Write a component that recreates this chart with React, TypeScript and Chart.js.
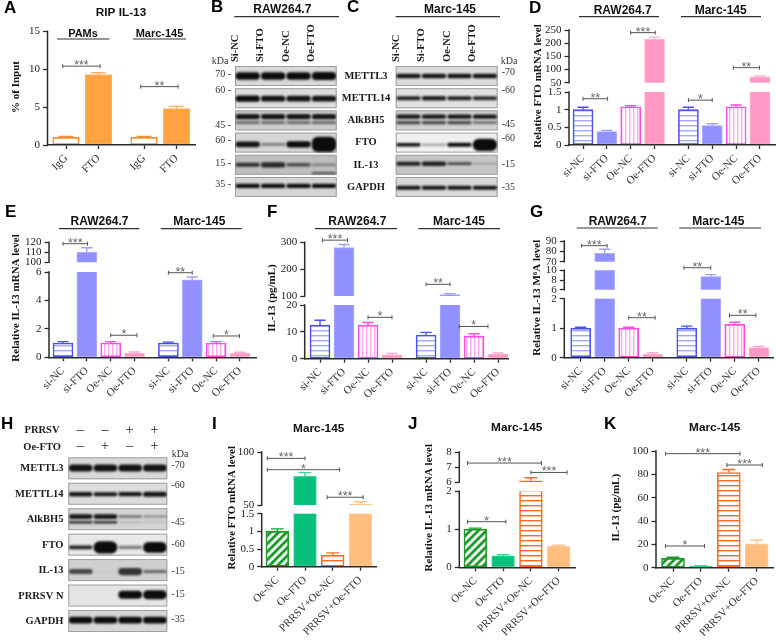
import React, { useEffect, useRef } from 'react';
import { Chart, LinearScale, registerables } from 'chart.js';

Chart.register(...registerables);

/* ---------- data ---------- */
const groupSlots = [0, 1, 2, 3, 4.42, 5.42, 6.42, 7.42];
const fourSlots = [0, 1, 2, 3];
const ripSlots = [0, 1, 2.4, 3.4];

const ripCategories = ['IgG', 'FTO', 'IgG', 'FTO'];
const siOeCategories = ['si-NC', 'si-FTO', 'Oe-NC', 'Oe-FTO', 'si-NC', 'si-FTO', 'Oe-NC', 'Oe-FTO'];
const prrsvCategories = ['Oe-NC', 'Oe-FTO', 'PRRSV+Oe-NC', 'PRRSV+Oe-FTO'];

const aValues = [1, 9.3, 1, 4.8];
const aErrors = [0.12, 0.25, 0.12, 0.3];
const dValues = [1, 0.38, 1.08, 215, 1, 0.55, 1.08, 72];
const dErrors = [0.07, 0.03, 0.03, 8, 0.07, 0.05, 0.05, 4];
const eValues = [1, 110, 1, 0.3, 1, 5.45, 1, 0.3];
const eErrors = [0.1, 4.5, 0.1, 0.07, 0.07, 0.2, 0.1, 0.05];
const fValues = [12.5, 280, 12.5, 1.4, 8.8, 105, 8.4, 1.7];
const fErrors = [1.8, 12, 1, 0.6, 1, 4, 0.9, 0.4];
const gValues = [1, 78, 1, 0.12, 1, 8.7, 1.13, 0.34];
const gErrors = [0.03, 4, 0.03, 0.05, 0.07, 0.4, 0.07, 0.04];
const iValues = [1, 77, 0.33, 51];
const iErrors = [0.07, 3.5, 0.06, 2];
const jValues = [1, 0.3, 6.1, 0.55];
const jErrors = [0.03, 0.03, 0.2, 0.03];
const kValues = [8, 1.3, 81.5, 20.5];
const kErrors = [1, 0.4, 2.7, 3];

const aTicks = [0, 5, 10, 15];
const dTicks = [0, 0.5, 1, 1.5, 50, 100, 150, 200, 250];
const eTicks = [0, 2, 4, 6, 100, 110, 120];
const fTicks = [0, 10, 20, 100, 200, 300];
const gTicks = [0, 1, 2, 6, 8, 10, 70, 80, 90];
const iTicks = [0, 0.5, 1, 1.5, 50, 100];
const jTicks = [0, 1, 2, 6, 7, 8];
const kTicks = [0, 20, 40, 60, 80, 100];

const laneLabels = ['Si-NC', 'Si-FTO', 'Oe-NC', 'Oe-FTO'];
const westernRows = ['METTL3', 'METTL14', 'AlkBH5', 'FTO', 'IL-13', 'GAPDH'];
const prrsvRows = ['METTL3', 'METTL14', 'AlkBH5', 'FTO', 'IL-13', 'PRRSV N', 'GAPDH'];
const bKda = ['70', '60', '45', '60', '15', '35'];
const cKda = ['70', '60', '45', '60', '15', '35'];
const hKda = ['70', '60', '45', '60', '15', '15', '35'];
const bKdaRows = [0.36, 1.11, 2.66, 3.33, 4.37, 5.32];
const cKdaRows = [0.3, 1.08, 2.63, 3.26, 4.43, 5.48];
const hKdaRows = [0.33, 1.09, 2.55, 3.41, 4.5, 5.38, 6.37];
const prrsvSigns = ['-', '-', '+', '+'];
const oeFtoSigns = ['-', '+', '-', '+'];

// band row position, thickness (in row heights) and darkness per lane
const bBandRows = [0.45, 1.47, 2.28, 2.55, 3.53, 4.45, 4.82, 5.4];
const bBandThick = [
  [0.34, 0.34, 0.34, 0.36], [0.28, 0.26, 0.26, 0.26], [0.24, 0.24, 0.24, 0.24], [0.13, 0.13, 0.13, 0.13],
  [0.26, 0.12, 0.28, 0.68], [0.18, 0.24, 0.16, 0.11], [0, 0, 0, 0.1], [0.2, 0.2, 0.2, 0.2],
];
const bBandDark = [
  [1, 1, 1, 1], [1, 0.97, 0.97, 0.97], [0.95, 0.95, 0.95, 0.95], [0.55, 0.55, 0.55, 0.55],
  [0.95, 0.45, 1, 1], [0.8, 0.85, 0.65, 0.35], [0, 0, 0, 0.65], [1, 1, 1, 1],
];
const cBandRows = [0.45, 1.45, 2.28, 2.55, 3.55, 4.4, 5.48];
const cBandThick = [
  [0.2, 0.2, 0.2, 0.2], [0.18, 0.2, 0.18, 0.18], [0.2, 0.2, 0.2, 0.2], [0.14, 0.14, 0.14, 0.1],
  [0.16, 0.09, 0.18, 0.55], [0.18, 0.2, 0.13, 0.06], [0.18, 0.18, 0.18, 0.18],
];
const cBandDark = [
  [0.97, 0.97, 0.97, 0.97], [0.9, 0.9, 0.9, 0.85], [0.95, 0.95, 0.95, 0.95], [0.7, 0.7, 0.7, 0.6],
  [0.97, 0.4, 1, 1], [0.9, 0.9, 0.7, 0.3], [0.97, 0.97, 0.97, 0.97],
];
const hBandRows = [0.42, 1.45, 2.33, 2.55, 3.54, 4.49, 5.4, 6.4];
const hBandThick = [
  [0.28, 0.28, 0.28, 0.28], [0.18, 0.16, 0.17, 0.2], [0.18, 0.18, 0.1, 0.08], [0.1, 0.1, 0.06, 0.06],
  [0.14, 0.48, 0.12, 0.42], [0.2, 0.04, 0.28, 0.12], [0, 0, 0.32, 0.36], [0.26, 0.26, 0.26, 0.26],
];
const hBandDark = [
  [0.97, 0.97, 0.97, 0.97], [0.95, 0.95, 0.95, 0.95], [0.95, 0.95, 0.5, 0.4], [0.85, 0.85, 0.2, 0.15],
  [0.9, 1, 0.5, 1], [0.7, 0.05, 0.8, 0.55], [0, 0, 1, 1], [1, 1, 1, 1],
];
const bRowShade = ['#d8d8d8', '#dcdcdc', '#cdcdcd', '#d6d6d6', '#bebebe', '#d4d4d4'];
const cRowShade = ['#dcdcdc', '#e0e0e0', '#d2d2d2', '#f0f0f0', '#c6c6c6', '#d8d8d8'];
const hRowShade = ['#d8d8d8', '#dcdcdc', '#d4d4d4', '#e8e8e8', '#d0d0d0', '#e4e4e4', '#d6d6d6'];

const panelLetters: [string, number, number][] = [
  ['A', 4, 9], ['B', 211, 8], ['C', 347, 8], ['D', 529, 9], ['E', 5, 213], ['F', 267, 213],
  ['G', 530, 213], ['H', 1, 425], ['I', 212, 425], ['J', 408, 425], ['K', 604, 425],
];

/* ---------- styles ---------- */
const SERIF = '"Liberation Serif"';
const SANS = '"Liberation Sans"';
const INK = '#2b2b2b';

type Style = { border: string; err: string; fill: string; pattern?: string; stripe?: string; bw: number };
const STYLES: Record<string, Style> = {
  ow: { border: '#ff8f2e', err: '#ff8f2e', fill: '#ffffff', bw: 1.6 },
  os: { border: '#ffb066', err: '#ffac5e', fill: '#ffa340', bw: 1 },
  bl: { border: '#4a50f2', err: '#4a50f2', fill: '#ffffff', pattern: 'h', stripe: '#a3a8fa', bw: 1.6 },
  bs: { border: '#adadff', err: '#a0a0ff', fill: '#9090ff', bw: 1 },
  pl: { border: '#ff4be0', err: '#ff4be0', fill: '#ffffff', pattern: 'v', stripe: '#ffa8ee', bw: 1.6 },
  ps: { border: '#ffb4d6', err: '#ffa8cf', fill: '#ff98c4', bw: 1 },
  gh: { border: '#1c9a28', err: '#1c9a28', fill: '#ffffff', pattern: 'd', stripe: '#1c9a28', bw: 1.6 },
  gs: { border: '#45d19c', err: '#45d19c', fill: '#08c07c', bw: 1 },
  rl: { border: '#ff6a20', err: '#ff6a20', fill: '#ffffff', pattern: 'h', stripe: '#ff6a20', bw: 1.6 },
  ys: { border: '#ffcf9f', err: '#ffc48c', fill: '#ffbd80', bw: 1 },
};

function makePattern(kind: string, color: string): CanvasPattern | string {
  const c = document.createElement('canvas');
  const size = kind === 'd' ? 8 : kind === 'h' ? 5 : 4;
  c.width = size;
  c.height = size;
  const g = c.getContext('2d')!;
  g.fillStyle = '#ffffff';
  g.fillRect(0, 0, size, size);
  g.strokeStyle = color;
  g.fillStyle = color;
  if (kind === 'h') g.fillRect(0, 0, size, 1.4);
  if (kind === 'v') g.fillRect(0, 0, 1.4, size);
  if (kind === 'd') {
    g.lineWidth = 2.8;
    g.beginPath();
    g.moveTo(-2, 2); g.lineTo(2, -2);
    g.moveTo(-2, 10); g.lineTo(10, -2);
    g.moveTo(6, 10); g.lineTo(10, 6);
    g.stroke();
  }
  return g.createPattern(c, 'repeat') || '#ffffff';
}

/* ---------- panels ---------- */
type Head = [string, number, number, number, number, number];
type Bracket = [number, number, number, string];
type Panel = {
  canvas: [number, number, number, number];
  left: number; right: number; first: number; pitch: number; barW: number;
  slots: number[]; categories: string[]; values: number[]; errors: number[]; styles: string[];
  knots: [number, number][]; gaps: number[]; ticks: number[];
  yTitle: [string, number, number]; heads: Head[]; title?: [string, number, number]; brackets: Bracket[];
  headFont?: number;
};

const siStyles = ['bl', 'bs', 'pl', 'ps', 'bl', 'bs', 'pl', 'ps'];
const prStyles = ['gh', 'gs', 'rl', 'ys'];

const PANELS: Panel[] = [
  {
    canvas: [0, 0, 208, 205], left: 47.5, right: 195, first: 66, pitch: 32.5, barW: 26.5,
    slots: ripSlots, categories: ripCategories, values: aValues, errors: aErrors, styles: ['ow', 'os', 'ow', 'os'],
    knots: [[0, 145], [15, 31.3]], gaps: [], ticks: aTicks,
    yTitle: ['% of Input', 16, 87], title: ['RIP IL-13', 121, 13], headFont: 11,
    heads: [['PAMs', 83, 33.5, 57, 109.5, 39], ['Marc-145', 159.5, 33.5, 133, 186, 39]],
    brackets: [[-0.1, 1.05, 10.4, '***'], [2.3, 3.45, 7.7, '**']],
  },
  {
    canvas: [525, 0, 252, 205], left: 569, right: 775, first: 583, pitch: 23.85, barW: 20,
    slots: groupSlots, categories: siOeCategories, values: dValues, errors: dErrors, styles: siStyles,
    knots: [[0, 145], [1.5, 92], [50, 82.7], [250, 30]], gaps: [1], ticks: dTicks,
    yTitle: ['Relative FTO mRNA level', 538.5, 86],
    heads: [['RAW264.7', 622.7, 10.7, 579, 659, 16.7], ['Marc-145', 720.7, 10.7, 681, 761, 16.7]],
    brackets: [[0, 1.03, 1.31, '**'], [2, 3.03, 240, '***'], [4.42, 5.42, 1.27, '*'], [6.3, 7.4, 107, '**']],
  },
  {
    canvas: [0, 205, 262, 200], left: 49, right: 256, first: 63, pitch: 23.85, barW: 20,
    slots: groupSlots, categories: siOeCategories, values: eValues, errors: eErrors, styles: siStyles,
    knots: [[0, 357.3], [6, 272], [100, 262.3], [120, 242.3]], gaps: [1], ticks: eTicks,
    yTitle: ['Relative IL-13 mRNA level', 15.7, 298],
    heads: [['RAW264.7', 99.5, 222, 59, 139.3, 228.7], ['Marc-145', 199.3, 222, 160.7, 241.7, 228.7]],
    brackets: [[0, 1.03, 118.6, '***'], [4.42, 5.42, 5.95, '**'], [2, 3.1, 1.55, '*'], [6.3, 7.4, 1.5, '*']],
  },
  {
    canvas: [262, 205, 258, 200], left: 304.7, right: 508, first: 320, pitch: 24, barW: 20,
    slots: groupSlots, categories: siOeCategories, values: fValues, errors: fErrors, styles: siStyles,
    knots: [[0, 358.7], [20, 305], [100, 296], [300, 242.3]], gaps: [1], ticks: fTicks,
    yTitle: ['IL-13 (pg/mL)', 271.7, 298],
    heads: [['RAW264.7', 357.3, 222, 315, 397, 228.7], ['Marc-145', 459, 222, 418.3, 500, 228.7]],
    brackets: [[0.1, 1.15, 308, '***'], [4.42, 5.42, 143.5, '**'], [2, 3, 15.4, '*'], [5.8, 7, 12, '*']],
  },
  {
    canvas: [525, 205, 252, 200], left: 564.3, right: 773, first: 580.7, pitch: 24, barW: 20,
    slots: groupSlots, categories: siOeCategories, values: gValues, errors: gErrors, styles: siStyles,
    knots: [[0, 357.7], [2, 298.7], [6, 289.7], [10, 270.3], [70, 261.7], [90, 241]], gaps: [1, 3], ticks: gTicks,
    yTitle: ['Relative IL-13 M⁶A level', 537.3, 297.7],
    heads: [['RAW264.7', 617.7, 221.7, 576.7, 657.7, 228], ['Marc-145', 718.3, 221.7, 679.3, 761, 228]],
    brackets: [[0.03, 1.1, 85.5, '***'], [4.3, 5.42, 28, '**'], [2, 3.1, 1.356, '**'], [6.2, 7.3, 1.437, '**']],
  },
  {
    canvas: [225, 410, 175, 230], left: 261.7, right: 376.7, first: 277.3, pitch: 27.7, barW: 22.7,
    slots: fourSlots, categories: prrsvCategories, values: iValues, errors: iErrors, styles: prStyles,
    knots: [[0, 566.7], [1.5, 513.7], [50, 505], [100, 452]], gaps: [1], ticks: iTicks,
    yTitle: ['Relative FTO mRNA level', 232, 507.7], title: ['Marc-145', 318.7, 429], heads: [],
    brackets: [[-0.36, 1, 94, '***'], [-0.36, 2.25, 83.3, '*'], [1.8, 3.1, 57.3, '***']],
  },
  {
    canvas: [415, 410, 170, 230], left: 459.3, right: 575.7, first: 475.3, pitch: 27.8, barW: 22.7,
    slots: fourSlots, categories: prrsvCategories, values: jValues, errors: jErrors, styles: prStyles,
    knots: [[0, 567.3], [2, 491.3], [6, 482.3], [8, 452]], gaps: [1], ticks: jTicks,
    yTitle: ['Relative IL-13 mRNA level', 429, 507.7], title: ['Marc-145', 516.7, 428], heads: [],
    brackets: [[-0.28, 2.38, 7.27, '***'], [2, 3.3, 6.65, '***'], [-0.28, 1.1, 1.2, '*']],
  },
  {
    canvas: [600, 410, 177, 230], left: 656, right: 773.7, first: 673, pitch: 27.9, barW: 23,
    slots: fourSlots, categories: prrsvCategories, values: kValues, errors: kErrors, styles: prStyles,
    knots: [[0, 567.7], [100, 451]], gaps: [], ticks: kTicks,
    yTitle: ['IL-13 (pg/mL)', 616.3, 507.7], title: ['Marc-145', 714.7, 428], heads: [],
    brackets: [[-0.27, 2.4, 97.7, '***'], [1.93, 3.2, 88, '***'], [-0.27, 1.13, 18.6, '*']],
  },
];

type Blot = {
  canvas: [number, number, number, number];
  left: number; right: number; top: number; pitch: number; boxH: number;
  rows: string[]; shades: string[]; bandRows: number[]; thick: number[][]; dark: number[][];
  kda: string[]; kdaRows: number[]; side: 'left' | 'right'; kdaAt: [number, number];
  rowLabelX?: number; rowLabelAlign?: CanvasTextAlign; laneText: boolean;
  heads: Head[]; signs: boolean;
};

const BLOTS: Blot[] = [
  {
    canvas: [205, 0, 190, 205], left: 235, right: 336.7, top: 66, pitch: 22.2, boxH: 20,
    rows: westernRows, shades: bRowShade, bandRows: bBandRows, thick: bBandThick, dark: bBandDark,
    kda: bKda, kdaRows: bKdaRows, side: 'left', kdaAt: [220, 61], rowLabelX: 366, rowLabelAlign: 'center',
    laneText: true, heads: [['RAW264.7', 282.3, 10, 234.3, 339, 16.7]], signs: false,
  },
  {
    canvas: [390, 0, 135, 205], left: 395.7, right: 497.7, top: 66, pitch: 22.2, boxH: 20,
    rows: westernRows, shades: cRowShade, bandRows: cBandRows, thick: cBandThick, dark: cBandDark,
    kda: cKda, kdaRows: cKdaRows, side: 'right', kdaAt: [509, 61],
    laneText: true, heads: [['Marc-145', 450, 10, 395.7, 500, 16.7]], signs: false,
  },
  {
    canvas: [0, 410, 205, 230], left: 68.3, right: 167.3, top: 457.3, pitch: 25.45, boxH: 22,
    rows: prrsvRows, shades: hRowShade, bandRows: hBandRows, thick: hBandThick, dark: hBandDark,
    kda: hKda, kdaRows: hKdaRows, side: 'right', kdaAt: [180, 454], rowLabelX: 63.5, rowLabelAlign: 'right',
    laneText: false, heads: [], signs: true,
  },
];

/* ---------- piecewise axis ---------- */
const panelOfCanvas = new WeakMap<HTMLCanvasElement, Panel>();

class BrokenScale extends LinearScale {
  static id = 'broken';
  static defaults = {};
  getPixelForValue(v: number) {
    const p = panelOfCanvas.get((this as any).chart.canvas)!;
    const k = p.knots;
    let i = 0;
    while (i < k.length - 2 && v > k[i + 1][0]) i++;
    const t = (v - k[i][0]) / (k[i + 1][0] - k[i][0]);
    return k[i][1] + t * (k[i + 1][1] - k[i][1]) - p.canvas[1];
  }
  getValueForPixel(px: number) {
    const p = panelOfCanvas.get((this as any).chart.canvas)!;
    const k = p.knots;
    const y = px + p.canvas[1];
    let i = 0;
    while (i < k.length - 2 && y < k[i + 1][1]) i++;
    return k[i][0] + ((y - k[i][1]) / (k[i + 1][1] - k[i][1])) * (k[i + 1][0] - k[i][0]);
  }
}
Chart.register(BrokenScale as any);

const fitWidth = (w: number) => (s: any) => { s.width = w; s.paddingTop = s.paddingBottom = s.paddingLeft = s.paddingRight = 0; };
const fitHeight = (h: number) => (s: any) => { s.height = h; s.paddingTop = s.paddingBottom = s.paddingLeft = s.paddingRight = 0; };

function drawHeads(g: CanvasRenderingContext2D, heads: Head[], size: number) {
  for (const [text, cx, y, x1, x2, ly] of heads) {
    g.fillStyle = '#111';
    g.font = `bold ${size}px ${SANS}`;
    g.textAlign = 'center';
    g.textBaseline = 'middle';
    g.fillText(text, cx, y);
    g.strokeStyle = '#333';
    g.lineWidth = 1.2;
    g.beginPath();
    g.moveTo(x1, ly);
    g.lineTo(x2, ly);
    g.stroke();
  }
}

const panelPlugin = {
  id: 'panelMarks',
  afterDatasetsDraw(chart: any) {
    const p = panelOfCanvas.get(chart.canvas)!;
    const g: CanvasRenderingContext2D = chart.ctx;
    const x = chart.scales.x;
    const y = chart.scales.y;
    const [cx, cy] = p.canvas;
    const area = chart.chartArea;
    g.save();
    // white breaks through the bars
    for (const i of p.gaps) {
      g.fillStyle = '#ffffff';
      const a = p.knots[i][1] - cy;
      const b = p.knots[i + 1][1] - cy;
      g.fillRect(area.left + 1, b, area.right - area.left, a - b);
    }
    // error bars
    p.values.forEach((v, i) => {
      const st = STYLES[p.styles[i]];
      const px = x.getPixelForValue(p.slots[i]);
      const y0 = y.getPixelForValue(v);
      const y1 = y.getPixelForValue(v + p.errors[i]);
      const cap = p.barW * 0.28;
      g.strokeStyle = st.err;
      g.lineWidth = 1.4;
      g.beginPath();
      g.moveTo(px, y0);
      g.lineTo(px, y1);
      g.moveTo(px - cap, y1);
      g.lineTo(px + cap, y1);
      g.stroke();
    });
    // y axis line, broken at the gaps
    g.strokeStyle = INK;
    g.lineWidth = 1.5;
    g.beginPath();
    for (let i = 0; i < p.knots.length - 1; i++) {
      if (p.gaps.includes(i)) continue;
      g.moveTo(area.left, p.knots[i][1] - cy + 0.7);
      g.lineTo(area.left, p.knots[i + 1][1] - cy - 0.7);
    }
    g.stroke();
    // significance brackets
    for (const [a, b, v, label] of p.brackets) {
      const x1 = x.getPixelForValue(a);
      const x2 = x.getPixelForValue(b);
      const by = y.getPixelForValue(v);
      g.strokeStyle = '#555';
      g.lineWidth = 1;
      g.beginPath();
      g.moveTo(x1, by); g.lineTo(x2, by);
      g.moveTo(x1, by - 2); g.lineTo(x1, by + 2);
      g.moveTo(x2, by - 2); g.lineTo(x2, by + 2);
      g.stroke();
      g.fillStyle = '#666';
      g.font = `12.5px ${SANS}`;
      g.textAlign = 'center';
      g.textBaseline = 'alphabetic';
      g.fillText(label, (x1 + x2) / 2, by + 3);
    }
    g.translate(-cx, -cy);
    drawHeads(g, p.heads, p.headFont || 12);
    if (p.title) {
      g.fillStyle = '#111';
      g.font = `bold 11.8px ${SANS}`;
      g.textAlign = 'center';
      g.textBaseline = 'middle';
      g.fillText(p.title[0], p.title[1], p.title[2]);
    }
    g.translate(p.yTitle[1], p.yTitle[2]);
    g.rotate(-Math.PI / 2);
    g.fillStyle = '#111';
    g.font = `bold 11px ${SERIF}`;
    g.textAlign = 'center';
    g.textBaseline = 'middle';
    g.fillText(p.yTitle[0], 0, 0);
    g.restore();
  },
};

function BarPanel({ panel }: { panel: Panel }) {
  const ref = useRef<HTMLCanvasElement>(null);
  useEffect(() => {
    const canvas = ref.current!;
    panelOfCanvas.set(canvas, panel);
    const [cx, cy, cw, ch] = panel.canvas;
    const bottom = panel.knots[0][1];
    const top = panel.knots[panel.knots.length - 1][1];
    const fills = panel.styles.map((s) => {
      const st = STYLES[s];
      return st.pattern ? makePattern(st.pattern, st.stripe!) : st.fill;
    });
    const chart = new Chart(canvas, {
      type: 'bar',
      data: {
        datasets: [{
          data: panel.values.map((v, i) => ({ x: panel.slots[i], y: v })),
          barThickness: panel.barW,
          backgroundColor: (c: any) => fills[c.dataIndex],
          borderColor: (c: any) => STYLES[panel.styles[c.dataIndex]].border,
          borderWidth: (c: any) => STYLES[panel.styles[c.dataIndex]].bw,
          borderSkipped: false,
        }],
      },
      options: {
        responsive: false,
        animation: false,
        devicePixelRatio: 1,
        events: [],
        layout: {
          autoPadding: false,
          padding: { left: 0, right: cx + cw - panel.right, top: top - cy, bottom: 0 },
        },
        plugins: { legend: { display: false }, title: { display: false }, tooltip: { enabled: false } },
        scales: {
          x: {
            type: 'linear',
            offset: false,
            min: (panel.left - panel.first) / panel.pitch,
            max: (panel.right - panel.first) / panel.pitch,
            afterBuildTicks: (s: any) => { s.ticks = panel.slots.map((v) => ({ value: v })); },
            afterFit: fitHeight(cy + ch - bottom),
            border: { display: true, color: INK, width: 1.5, z: 1 },
            grid: { offset: false, drawOnChartArea: false, drawTicks: true, tickLength: 4, tickWidth: 1.3, tickColor: INK },
            ticks: {
              autoSkip: false, minRotation: 45, maxRotation: 45, padding: 3, color: '#333',
              font: { family: SERIF, size: 11 },
              callback: (_v: any, i: number) => panel.categories[i],
            },
          },
          y: {
            type: 'broken' as any,
            min: panel.knots[0][0],
            max: panel.knots[panel.knots.length - 1][0],
            afterBuildTicks: (s: any) => { s.ticks = panel.ticks.map((v) => ({ value: v })); },
            afterFit: fitWidth(panel.left - cx),
            border: { display: false },
            grid: { drawOnChartArea: false, drawTicks: true, tickLength: 4.5, tickWidth: 1.3, tickColor: INK },
            ticks: {
              autoSkip: false, padding: 3, color: '#222',
              font: { family: SERIF, size: 11 },
              callback: (v: any) => String(v),
            },
          },
        },
      } as any,
      plugins: [panelPlugin as any],
    });
    return () => chart.destroy();
  }, [panel]);
  const [cx, cy, cw, ch] = panel.canvas;
  return <canvas ref={ref} width={cw} height={ch} style={{ position: 'absolute', left: cx, top: cy, width: cw, height: ch }} />;
}

/* ---------- western blots ---------- */
const blotOfCanvas = new WeakMap<HTMLCanvasElement, Blot>();

const blotPlugin = {
  id: 'blotMarks',
  beforeDatasetsDraw(chart: any) {
    const b = blotOfCanvas.get(chart.canvas)!;
    const g: CanvasRenderingContext2D = chart.ctx;
    const a = chart.chartArea;
    b.rows.forEach((_r, i) => {
      const y = a.top + i * b.pitch;
      g.fillStyle = b.shades[i];
      g.fillRect(a.left, y, a.right - a.left, b.boxH);
      g.strokeStyle = '#a0a0a0';
      g.lineWidth = 1;
      g.strokeRect(a.left + 0.5, y + 0.5, a.right - a.left - 1, b.boxH - 1);
    });
  },
  beforeDatasetDraw(chart: any) {
    chart.ctx.save();
    chart.ctx.filter = 'blur(0.8px)';
  },
  afterDatasetDraw(chart: any) {
    chart.ctx.restore();
  },
  afterDatasetsDraw(chart: any) {
    const b = blotOfCanvas.get(chart.canvas)!;
    const g: CanvasRenderingContext2D = chart.ctx;
    const a = chart.chartArea;
    const x = chart.scales.x;
    const [cx, cy] = b.canvas;
    g.save();
    if (b.rowLabelX !== undefined) {
      g.fillStyle = '#1a1a1a';
      g.font = `bold 10.5px ${SERIF}`;
      g.textAlign = b.rowLabelAlign!;
      g.textBaseline = 'middle';
      b.rows.forEach((r, i) => {
        g.fillText(r, b.rowLabelX! - cx, a.top + (i + 0.45) * b.pitch);
      });
    }
    g.fillStyle = '#333';
    g.font = `10px ${SERIF}`;
    g.textAlign = 'center';
    g.textBaseline = 'middle';
    g.fillText('kDa', b.kdaAt[0] - cx, b.kdaAt[1] - cy);
    if (b.signs) {
      g.fillStyle = '#1a1a1a';
      g.font = `bold 10.5px ${SERIF}`;
      g.textAlign = 'right';
      g.fillText('PRRSV', 59.5 - cx, 430 - cy);
      g.fillText('Oe-FTO', 61 - cx, 447 - cy);
      g.font = `14px ${SERIF}`;
      g.textAlign = 'center';
      [prrsvSigns, oeFtoSigns].forEach((signs, r) => {
        signs.forEach((s, i) => {
          g.fillText(s === '-' ? '–' : '+', x.getPixelForValue(i) - 0.5, (r === 0 ? 430 : 446) - cy);
        });
      });
    }
    g.translate(-cx, -cy);
    drawHeads(g, b.heads, 12);
    g.restore();
  },
};

function BlotPanel({ blot }: { blot: Blot }) {
  const ref = useRef<HTMLCanvasElement>(null);
  useEffect(() => {
    const canvas = ref.current!;
    blotOfCanvas.set(canvas, blot);
    const [cx, cy, cw, ch] = blot.canvas;
    const bottom = blot.top + blot.rows.length * blot.pitch;
    const isLeft = blot.side === 'left';
    const chart = new Chart(canvas, {
      type: 'bar',
      data: {
        labels: laneLabels,
        datasets: blot.bandRows.map((row, r) => ({
          data: blot.thick[r].map((t) => (t > 0 ? [row - t / 2, row + t / 2] : null)),
          backgroundColor: blot.dark[r].map((d) => `rgba(12,12,12,${d})`),
          borderWidth: 0,
          borderRadius: 6,
          borderSkipped: false,
          grouped: false,
          barPercentage: 0.96,
          categoryPercentage: 1,
        })),
      },
      options: {
        responsive: false,
        animation: false,
        devicePixelRatio: 1,
        events: [],
        layout: {
          autoPadding: false,
          padding: {
            left: isLeft ? 0 : blot.left - cx,
            right: isLeft ? cx + cw - blot.right : 0,
            top: 0,
            bottom: cy + ch - bottom,
          },
        },
        plugins: { legend: { display: false }, title: { display: false }, tooltip: { enabled: false } },
        scales: {
          x: {
            type: 'category',
            position: 'top',
            afterFit: fitHeight(blot.top - cy),
            border: { display: false },
            grid: { display: false, drawTicks: false },
            ticks: {
              display: blot.laneText,
              autoSkip: false, minRotation: 90, maxRotation: 90, padding: 4, color: '#1a1a1a',
              font: { family: SERIF, size: 10.5, weight: 'bold' },
            },
          },
          y: {
            type: 'linear',
            position: blot.side,
            reverse: true,
            min: 0,
            max: blot.rows.length,
            afterBuildTicks: (s: any) => { s.ticks = blot.kdaRows.map((v) => ({ value: v })); },
            afterFit: fitWidth(isLeft ? blot.left - cx : cx + cw - blot.right),
            border: { display: false },
            grid: { display: false, drawTicks: false },
            ticks: {
              autoSkip: false, padding: 4, color: '#333',
              font: { family: SERIF, size: 10 },
              callback: (_v: any, i: number) => (isLeft ? `${blot.kda[i]} -` : `-${blot.kda[i]}`),
            },
          },
        },
      } as any,
      plugins: [blotPlugin as any],
    });
    return () => chart.destroy();
  }, [blot]);
  const [cx, cy, cw, ch] = blot.canvas;
  return <canvas ref={ref} width={cw} height={ch} style={{ position: 'absolute', left: cx, top: cy, width: cw, height: ch }} />;
}

export default function App() {
  return (
    <div style={{ position: 'absolute', left: 0, top: 0, width: 777, height: 640, background: '#fff', overflow: 'hidden' }}>
      {BLOTS.map((b, i) => <BlotPanel key={i} blot={b} />)}
      {PANELS.map((p, i) => <BarPanel key={i} panel={p} />)}
      {panelLetters.map(([t, x, y]) => (
        <span key={t} style={{ position: 'absolute', left: x, top: y - 11, lineHeight: '22px', font: `bold 17px ${SANS}`, color: '#000' }}>{t}</span>
      ))}
    </div>
  );
}
